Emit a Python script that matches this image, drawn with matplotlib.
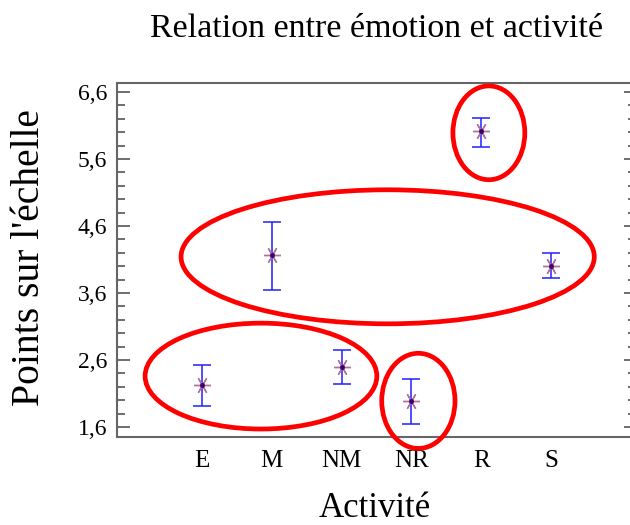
import matplotlib
matplotlib.use("Agg")
import matplotlib.pyplot as plt
from matplotlib.patches import Ellipse
from matplotlib.ticker import MultipleLocator, FixedLocator

categories = ["E", "M", "NM", "NR", "R", "S"]
means = [2.23, 4.17, 2.49, 1.99, 6.01, 4.01]
upper = [2.53, 4.66, 2.75, 2.32, 6.21, 4.20]
lower = [1.91, 3.65, 2.24, 1.64, 5.78, 3.82]
yticks = [1.6, 2.6, 3.6, 4.6, 5.6, 6.6]
ytick_labels = ["1,6", "2,6", "3,6", "4,6", "5,6", "6,6"]

# annotation ellipses (centre x, centre y, width, height) in data units
ellipses = [
    (1.845, 2.36, 3.32, 1.58),
    (3.66, 4.14, 5.92, 2.00),
    (4.10, 1.99, 1.05, 1.42),
    (5.11, 5.99, 1.03, 1.40),
]

plt.rcParams['font.family'] = ['Liberation Serif', 'DejaVu Serif']

fig = plt.figure(figsize=(6.3, 5.25), dpi=100)
ax = fig.add_axes([0.1857, 0.1676, 1.0095 - 0.1857, 0.842 - 0.1676])

x = list(range(1, len(categories) + 1))
yerr = [[m - l for m, l in zip(means, lower)], [u - m for u, m in zip(upper, means)]]
ax.errorbar(x, means, yerr=yerr, fmt='none', ecolor='#2020ff', elinewidth=1.1,
            capsize=6.5, capthick=1.1, zorder=3)
ax.plot(x, means, linestyle='none', marker=(6, 2, 90), markersize=12,
        markeredgecolor='#b070a0', markeredgewidth=1.0, zorder=4)
ax.plot(x, means, linestyle='none', marker='o', markersize=2.5,
        color='#400060', zorder=5)

for cx, cy, w, h in ellipses:
    ax.add_patch(Ellipse((cx, cy), w, h, fill=False, edgecolor='#ff0000',
                         linewidth=3.4, clip_on=False, zorder=6))

ax.set_xlim(1 - 85 / 69.8, 1 + (636 - 202) / 69.8)
ax.set_ylim(1.6 - 10 / 67, 6.6 + 9 / 67)
ax.set_xticks(x)
ax.set_xticklabels(categories, fontsize=18)
ax.tick_params(axis='x', length=0, pad=9)
ax.yaxis.set_major_locator(FixedLocator(yticks))
ax.set_yticklabels(ytick_labels, fontsize=17)
ax.yaxis.set_minor_locator(MultipleLocator(0.2))
ax.tick_params(axis='y', which='major', direction='in', length=9, width=1.2,
               color='#555555', right=True, pad=7)
ax.tick_params(axis='y', which='minor', direction='in', length=6, width=1.2,
               color='#555555', right=True)
for s in ax.spines.values():
    s.set_color('#666666')
    s.set_linewidth(1.5)

fig.text(0.5976, 1 - 37 / 525, "Relation entre émotion et activité", fontsize=24.5,
         ha='center', va='baseline')
fig.text(0.595, 1 - 517 / 525, "Activité", fontsize=25, ha='center', va='baseline')
fig.text(0.047, 0.5095, "Points sur l'échelle", fontsize=28.5, ha='center',
         va='center', rotation=90)

fig.savefig("out.png", dpi=100)
